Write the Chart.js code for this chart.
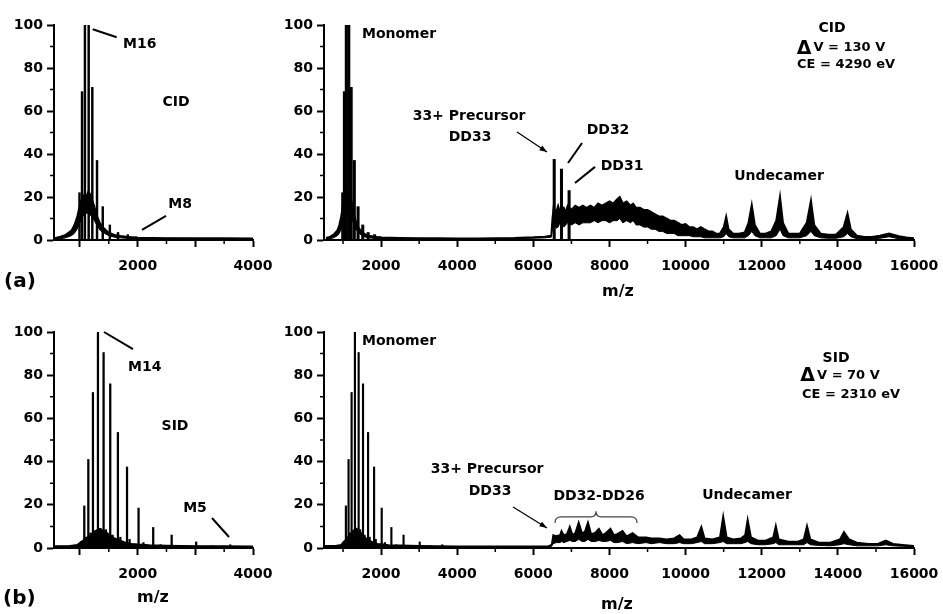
<!DOCTYPE html>
<html>
<head>
<meta charset="utf-8">
<script src="https://cdn.jsdelivr.net/npm/chart.js@4.4.1/dist/chart.umd.min.js"></script>
<style>
  body { margin: 0; background: #fff; width: 943px; height: 614px; position: relative; overflow: hidden;
         font-family: 'DejaVu Sans', sans-serif; font-weight: bold; color: #000; }
  canvas { position: absolute; }
  .lbl { position: absolute; white-space: nowrap; line-height: 1; }
  .mz { width: 60px; text-align: center; font-size: 16px; }
</style>
</head>
<body>
<canvas id="aLeft" width="280" height="300" style="left:0;top:0"></canvas>
<canvas id="aRight" width="663" height="300" style="left:280px;top:0"></canvas>
<canvas id="bLeft" width="280" height="314" style="left:0;top:300px"></canvas>
<canvas id="bRight" width="663" height="314" style="left:280px;top:300px"></canvas>
<div class="lbl" style="left:4px;top:270px;font-size:20px">(a)</div>
<div class="lbl" style="left:3px;top:587px;font-size:20px">(b)</div>
<div class="lbl mz" style="left:588px;top:283px">m/z</div>
<div class="lbl mz" style="left:123px;top:589px">m/z</div>
<div class="lbl mz" style="left:587px;top:596px">m/z</div>
<script>
// CID spectrum (panel a) - stick peaks
var cidPeakMz  = [992, 1036, 1086, 1151, 1214, 1296, 1395, 1518, 1660, 1829, 1971, 6548, 6739, 6939];
var cidPeakInt = [22, 69, 100, 100, 71, 37, 15.5, 7, 3.5, 2.5, 1.5, 37.5, 33, 23];

// CID spectrum - lower / upper edge of the continuum trace
var cidMz = [
  550, 650, 750, 850, 900, 950, 1000, 1050, 1100, 1150,
  1200, 1250, 1300, 1350, 1400, 1500, 1600, 1700, 1800, 2000,
  2500, 3000, 3500, 4000, 4500, 5000, 5500, 6000, 6300, 6470,
  6500, 6530, 6600, 6650, 6700, 6800, 6850, 6900, 7000, 7100,
  7200, 7300, 7400, 7500, 7600, 7700, 7800, 7900, 8000, 8100,
  8200, 8270, 8350, 8450, 8550, 8620, 8700, 8800, 8900, 9000,
  9100, 9200, 9300, 9400, 9500, 9600, 9700, 9800, 9900, 10000,
  10100, 10200, 10300, 10400, 10500, 10600, 10700, 10800, 10900, 11000,
  11066, 11130, 11250, 11400, 11550, 11650, 11738, 11820, 11950, 12100,
  12250, 12380, 12480, 12560, 12700, 12850, 13000, 13180, 13293, 13380,
  13550, 13750, 13950, 14150, 14253, 14340, 14500, 14700, 14900, 15100,
  15345, 15600, 15800, 16000];
var cidLow = [
  0.4, 0.6, 1, 2, 3, 5, 8, 11, 12.5, 12.5,
  11, 9, 6.5, 4.5, 3.5, 2, 1.3, 1, 0.8, 0.6,
  0.5, 0.5, 0.4, 0.4, 0.4, 0.5, 0.6, 0.8, 1, 1.3,
  5, 9, 5.5, 6, 8, 6, 7, 8, 7, 8,
  7, 8, 8, 8, 9, 8, 9, 9, 8, 9,
  9, 10, 8, 9, 8, 9, 7, 7, 6, 6,
  5, 5, 4, 4, 3, 3, 3, 2, 2, 2,
  2, 1.5, 1.5, 1.5, 1, 1, 1, 1, 1, 1.5,
  3, 1.5, 1, 1, 1, 2, 4, 2, 1, 1,
  1, 2, 5, 2, 1, 1, 1, 2, 4, 2,
  1, 0.8, 0.8, 1.5, 3, 1.5, 0.6, 0.5, 0.5, 0.8,
  1.5, 0.6, 0.4, 0.3];
var cidHigh = [
  1, 1.5, 2.5, 4.5, 7, 11, 17, 21, 20, 23,
  20, 16, 11, 8, 6, 3.5, 2.5, 2, 1.6, 1.2,
  1, 0.9, 0.9, 0.8, 0.8, 0.9, 1, 1.3, 1.6, 2,
  10, 15, 13, 16, 13, 15, 13, 16, 14, 16,
  15, 16, 15, 16, 15, 17, 16, 17, 18, 17,
  19, 20, 17, 18, 16, 17, 15, 15, 14, 14,
  13, 12, 11, 11, 10, 9, 9, 8, 7, 7.5,
  6, 6, 5, 6, 5, 4, 4, 3, 3, 6,
  11, 5, 3, 3, 3.5, 8, 16.5, 7, 3, 3,
  4, 9, 20.5, 8, 3, 3, 3, 8, 18.5, 7,
  3, 2.5, 2.5, 6, 12.5, 5, 2, 1.5, 1.5, 2,
  3, 1.8, 1.2, 0.8];

// SID spectrum (panel b) - stick peaks
var sidPeakMz  = [1020, 1075, 1110, 1145, 1185, 1225, 1265, 1312, 1355, 1410, 1450, 1525, 1565,
                  1658, 1700, 1816, 1860, 2016, 2100, 2270, 2400, 2590, 2800, 3015, 3300, 3605];
var sidPeakInt = [3, 19.5, 5, 41, 7, 72, 8, 100, 9, 90.5, 8.5, 76, 6,
                  53.5, 5, 37.5, 4, 18.5, 2.5, 9.5, 1.5, 6, 1.2, 2.8, 1, 1.5];

// SID spectrum - lower / upper edge of the continuum trace
var sidMz = [
  500, 800, 950, 1000, 1050, 1100, 1150, 1200, 1250, 1300,
  1350, 1400, 1450, 1500, 1550, 1600, 1700, 1800, 1900, 2000,
  2200, 2500, 3000, 3500, 4000, 5000, 6000, 6400, 6480, 6520,
  6600, 6700, 6739, 6800, 6880, 6957, 7030, 7100, 7191, 7280,
  7350, 7435, 7520, 7620, 7722, 7820, 7900, 8026, 8120, 8200,
  8344, 8450, 8608, 8750, 8960, 9100, 9313, 9500, 9700, 9841,
  9950, 10150, 10300, 10414, 10500, 10700, 10900, 10987, 11080, 11250,
  11450, 11560, 11630, 11720, 11900, 12100, 12300, 12370, 12450, 12700,
  12950, 13100, 13189, 13280, 13500, 13800, 14050, 14159, 14300, 14500,
  14800, 15050, 15260, 15450, 15700, 16000];
var sidLow = [
  0.3, 0.3, 0.4, 0.5, 0.5, 0.5, 0.5, 0.5, 0.5, 0.5,
  0.5, 0.5, 0.5, 0.5, 0.5, 0.5, 0.5, 0.4, 0.4, 0.4,
  0.3, 0.3, 0.3, 0.3, 0.3, 0.3, 0.3, 0.4, 0.8, 2,
  2.5, 2.5, 3, 2.5, 3, 3.5, 3, 3, 4, 3,
  3, 4, 3, 3, 3.5, 3, 3, 3.5, 2.5, 2.5,
  3, 2, 2.5, 2, 2.5, 2, 2.5, 2, 2, 2.5,
  2, 2, 2.5, 3, 2, 2, 2.5, 3, 2, 2,
  2, 2.5, 3, 2, 1.5, 1.5, 2, 2.5, 1.5, 1.5,
  1.5, 1.5, 2.5, 1.5, 1.2, 1, 1.5, 2, 1.5, 1,
  1, 1, 1.5, 1, 0.8, 0.5];
var sidHigh = [
  1, 1, 1.5, 2.5, 3.5, 4.5, 5.5, 6.5, 7.5, 8.5,
  9, 8, 7.5, 6.5, 5.5, 4.5, 3.5, 2.5, 2, 1.8,
  1.4, 1.2, 1, 0.9, 0.8, 0.8, 0.8, 0.9, 1.5, 6,
  5.5, 6, 8, 6, 6.5, 10, 6, 7, 12, 7,
  7.5, 12, 6.5, 7, 9, 6, 7, 9, 6, 6.5,
  8, 5.5, 7, 5, 5, 4.5, 4.5, 4, 4.5, 6,
  4, 4, 5, 10, 4.5, 4, 5, 15, 5, 4,
  4.5, 6, 13.5, 5, 3.5, 3.5, 5, 10.5, 4, 3,
  3, 4, 10.5, 4, 2.5, 2.5, 4, 7.5, 4, 2.5,
  2, 2, 3.5, 2, 1.5, 1];

// x axis ticks: long ticks (labelled at multiples of 2000) and short ticks
var leftMajor = [1000, 2000, 3000, 4000];
var leftMinor = [1500, 2500, 3500];
var rightMajor = [2000, 4000, 6000, 8000, 10000, 12000, 14000, 16000];
var rightMinor = [1000, 3000, 5000, 7000, 9000, 11000, 13000, 15000];
var yMinor = [10, 30, 50, 70, 90];

Chart.defaults.font.family = "'DejaVu Sans', sans-serif";
Chart.defaults.font.size = 14;
Chart.defaults.font.weight = 'bold';
Chart.defaults.color = '#000';

function pts(xs, ys) {
  return xs.map(function(x, i) { return {x: x, y: ys[i]}; });
}

function notesPlugin(cfg) {
  return {
    id: 'notes',
    afterDraw: function(chart) {
      var ctx = chart.ctx, area = chart.chartArea;
      var px = function(v) { return chart.scales.x.getPixelForValue(v); };
      var py = function(v) { return chart.scales.y.getPixelForValue(v); };
      ctx.save();
      ctx.strokeStyle = '#000';
      ctx.fillStyle = '#000';
      // short ticks
      ctx.lineWidth = 1.5;
      ctx.beginPath();
      yMinor.forEach(function(v) { ctx.moveTo(area.left - 4, py(v)); ctx.lineTo(area.left, py(v)); });
      cfg.minor.forEach(function(v) { ctx.moveTo(px(v), area.bottom); ctx.lineTo(px(v), area.bottom + 4); });
      ctx.stroke();
      // leader lines
      ctx.lineWidth = 2;
      (cfg.lines || []).forEach(function(l) {
        ctx.beginPath(); ctx.moveTo(px(l[0]), py(l[1])); ctx.lineTo(px(l[2]), py(l[3])); ctx.stroke();
      });
      // arrows
      ctx.lineWidth = 1.2;
      (cfg.arrows || []).forEach(function(a) {
        var x1 = px(a[0]), y1 = py(a[1]), x2 = px(a[2]), y2 = py(a[3]);
        var ang = Math.atan2(y2 - y1, x2 - x1);
        ctx.beginPath(); ctx.moveTo(x1, y1); ctx.lineTo(x2, y2); ctx.stroke();
        ctx.beginPath();
        ctx.moveTo(x2, y2);
        ctx.lineTo(x2 - 8 * Math.cos(ang - 0.35), y2 - 8 * Math.sin(ang - 0.35));
        ctx.lineTo(x2 - 8 * Math.cos(ang + 0.35), y2 - 8 * Math.sin(ang + 0.35));
        ctx.closePath(); ctx.fill();
      });
      // curly bracket
      if (cfg.brace) {
        var b = cfg.brace, bx1 = px(b[0]), bx2 = px(b[1]), by0 = py(b[2]), by1 = py(b[3]), btip = py(b[4]);
        var bm = (bx1 + bx2) / 2;
        ctx.lineWidth = 1.2;
        ctx.strokeStyle = '#444';
        ctx.beginPath();
        ctx.moveTo(bx1, by0);
        ctx.quadraticCurveTo(bx1, by1, bx1 + 6, by1);
        ctx.lineTo(bm - 5, by1);
        ctx.quadraticCurveTo(bm, by1, bm, btip);
        ctx.quadraticCurveTo(bm, by1, bm + 5, by1);
        ctx.lineTo(bx2 - 6, by1);
        ctx.quadraticCurveTo(bx2, by1, bx2, by0);
        ctx.stroke();
      }
      // labels
      ctx.textBaseline = 'middle';
      (cfg.texts || []).forEach(function(t) {
        var size = t.size || 14;
        var x = px(t.x), y = py(t.y);
        if (t.delta) {
          ctx.font = 'bold 19px "DejaVu Sans"';
          var dw = ctx.measureText('\u0394').width;
          ctx.font = 'bold ' + size + 'px "DejaVu Sans"';
          var tw = ctx.measureText(t.t).width;
          var x0 = x - (dw + 2 + tw) / 2;
          ctx.textAlign = 'left';
          ctx.font = 'bold 19px "DejaVu Sans"';
          ctx.fillText('\u0394', x0, y + 1);
          ctx.font = 'bold ' + size + 'px "DejaVu Sans"';
          ctx.fillText(t.t, x0 + dw + 2, y);
        } else {
          ctx.font = 'bold ' + size + 'px "DejaVu Sans"';
          ctx.textAlign = t.align || 'center';
          ctx.fillText(t.t, x, y);
        }
      });
      ctx.restore();
    }
  };
}

function makeChart(id, cfg) {
  var tickFont = {family: "'DejaVu Sans', sans-serif", size: 14, weight: 'bold'};
  return new Chart(document.getElementById(id), {
    type: 'bar',
    data: {
      datasets: [
        {type: 'line', data: pts(cfg.mz, cfg.low), borderColor: '#000', borderWidth: 1,
         pointRadius: 0, fill: false, tension: 0, order: 2},
        {type: 'line', data: pts(cfg.mz, cfg.high), borderColor: '#000', borderWidth: cfg.edge,
         pointRadius: 0, fill: '-1', backgroundColor: '#000', tension: 0, order: 2},
        {type: 'bar', data: pts(cfg.peakMz, cfg.peakInt), backgroundColor: '#000',
         barThickness: cfg.bar, order: 1}
      ]
    },
    options: {
      responsive: false,
      animation: false,
      events: [],
      layout: {padding: cfg.pad},
      plugins: {legend: {display: false}, tooltip: {enabled: false}},
      scales: {
        x: {
          type: 'linear', min: cfg.xMin, max: cfg.xMax, offset: false,
          grid: {drawOnChartArea: false, offset: false, tickLength: 7, tickWidth: 2, tickColor: '#000'},
          border: {display: true, color: '#000', width: 2},
          ticks: {autoSkip: false, maxRotation: 0, padding: 11, font: tickFont,
                  callback: function(v) { return v % 2000 === 0 ? String(v) : ''; }},
          afterBuildTicks: function(s) {
            s.ticks = cfg.major.map(function(v) { return {value: v}; });
          },
          afterFit: function(s) {
            s.height = 40;
            s.paddingLeft = 0;
            s.paddingRight = 0;
          }
        },
        y: {
          min: 0, max: 100,
          grid: {drawOnChartArea: false, tickLength: 7, tickWidth: 2, tickColor: '#000'},
          border: {display: true, color: '#000', width: 2},
          ticks: {stepSize: 20, padding: 4, font: tickFont,
                  callback: function(v) { return String(v); }},
          afterFit: function(s) { s.width = cfg.yw; }
        }
      }
    },
    plugins: [notesPlugin(cfg)]
  });
}

makeChart('aLeft', {
  mz: cidMz, low: cidLow, high: cidHigh, peakMz: cidPeakMz, peakInt: cidPeakInt,
  xMin: 550, xMax: 4000, major: leftMajor, minor: leftMinor, bar: 1.8, edge: 1.4, yw: 50,
  pad: {left: 4, top: 25, right: 27, bottom: 20},
  texts: [
    {t: 'M16', x: 1746, y: 91.2, align: 'left'},
    {t: 'CID', x: 2665, y: 64.2},
    {t: 'M8', x: 2735, y: 16.7}
  ],
  lines: [[1221, 98, 1637, 94.3], [2076, 4.7, 2492, 11.2]]
});

makeChart('aRight', {
  mz: cidMz, low: cidLow, high: cidHigh, peakMz: cidPeakMz, peakInt: cidPeakInt,
  xMin: 500, xMax: 16000, major: rightMajor, minor: rightMinor, bar: 2.4, edge: 1.8, yw: 40,
  pad: {left: 4, top: 25, right: 29, bottom: 20},
  texts: [
    {t: 'Monomer', x: 1498, y: 95.8, align: 'left'},
    {t: '33+ Precursor', x: 4310, y: 57.7},
    {t: 'DD33', x: 4336, y: 47.7},
    {t: 'DD32', x: 7961, y: 51.2},
    {t: 'DD31', x: 8329, y: 34.4},
    {t: 'Undecamer', x: 12454, y: 29.8},
    {t: 'CID', x: 13846, y: 98.6},
    {t: 'V = 130 V', x: 14083, y: 89.3, size: 13, delta: true},
    {t: 'CE = 4290 eV', x: 14215, y: 81.4, size: 13}
  ],
  lines: [[6911, 35.8, 7278, 45.1], [7094, 26.5, 7620, 34]],
  arrows: [[5571, 50.2, 6359, 40.9]]
});

makeChart('bLeft', {
  mz: sidMz, low: sidLow, high: sidHigh, peakMz: sidPeakMz, peakInt: sidPeakInt,
  xMin: 550, xMax: 4000, major: leftMajor, minor: leftMinor, bar: 1.6, edge: 1.4, yw: 50,
  pad: {left: 4, top: 32, right: 27, bottom: 26},
  texts: [
    {t: 'M14', x: 1833, y: 83.8, align: 'left'},
    {t: 'SID', x: 2648, y: 56.5},
    {t: 'M5', x: 2994, y: 18.5}
  ],
  lines: [[1417, 100, 1920, 92.1], [3289, 13.9, 3584, 5.1]]
});

makeChart('bRight', {
  mz: sidMz, low: sidLow, high: sidHigh, peakMz: sidPeakMz, peakInt: sidPeakInt,
  xMin: 500, xMax: 16000, major: rightMajor, minor: rightMinor, bar: 1.5, edge: 1.6, yw: 40,
  pad: {left: 4, top: 32, right: 29, bottom: 26},
  texts: [
    {t: 'Monomer', x: 1498, y: 95.8, align: 'left'},
    {t: '33+ Precursor', x: 4783, y: 36.6},
    {t: 'DD33', x: 4862, y: 26.4},
    {t: 'DD32-DD26', x: 7725, y: 24.1},
    {t: 'Undecamer', x: 11614, y: 24.5},
    {t: 'SID', x: 13952, y: 88},
    {t: 'V = 70 V', x: 14057, y: 80, size: 13, delta: true},
    {t: 'CE = 2310 eV', x: 14346, y: 70.8, size: 13}
  ],
  arrows: [[5466, 19, 6359, 9.3]],
  brace: [6569, 8724, 11.6, 14.4, 17]
});
</script>
</body>
</html>
